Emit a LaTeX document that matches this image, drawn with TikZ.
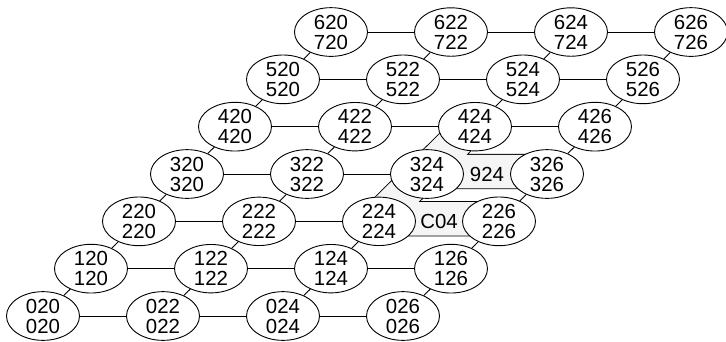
\documentclass[tikz,border=0pt]{standalone}
\usepackage{fontspec}
\setmainfont{Liberation Sans}
\usetikzlibrary{shapes.geometric,backgrounds,calc}
\begin{document}
\begin{tikzpicture}[x=1pt,y=1pt,
  cell/.style={ellipse,draw,fill=white,line width=0.9pt,inner sep=0pt,
    minimum width=73pt,minimum height=48pt,align=center,
    font=\fontsize{20.4}{20}\selectfont},
  link/.style={line width=0.9pt},
  band/.style={line width=0.9pt,double=gray!8,double distance=33.5pt,line join=round},
  lbl/.style={font=\fontsize{20.4}{20}\selectfont,inner sep=0pt}]
\useasboundingbox (0,0) rectangle (726,341);
\foreach \r in {0,...,6}{
  \foreach \c in {0,...,3}{
    \pgfmathtruncatemacro\col{2*\c}
    \pgfmathtruncatemacro\bot{\r==6 ? 7 : \r}
    \node[cell] (n\r\c) at ({43+48*\r+120*\c},{25+47.33*\r}) {\r2\col\\\bot2\col};
  }
}
\node[lbl] (t924) at ($(n32)!0.5!(n33)$) {924};
\node[lbl] (tC04) at ($(n22)!0.5!(n23)$) {C04};
\begin{scope}[on background layer]
  \foreach \r in {0,...,6}{
    \foreach \c in {0,1,2}{
      \pgfmathtruncatemacro\nxt{\c+1}
      \pgfmathtruncatemacro\nolink{((\r==2)||(\r==3))&&(\c==2)}
      \ifnum\nolink=0 \draw[link] (n\r\c) -- (n\r\nxt);\fi
    }
  }
  \foreach \r in {0,...,5}{
    \foreach \c in {0,...,3}{
      \pgfmathtruncatemacro\up{\r+1}
      \pgfmathtruncatemacro\nolink{((\r==2)||(\r==3))&&(\c==2)}
      \ifnum\nolink=0 \draw[link] (n\r\c) -- (n\up\c);\fi
    }
  }
  \draw[band] ([shift={(-1.5,2.5)}]n42.center) -- ([shift={(-1.5,2.5)}]n32.center) -- ([shift={(-1.5,2.5)}]n33.center);
  \draw[band] ([shift={(-1.5,2.5)}]n32.center) -- ([shift={(-1.5,2.5)}]n22.center) -- ([shift={(-1.5,2.5)}]n23.center);
\end{scope}
\end{tikzpicture}
\end{document}
